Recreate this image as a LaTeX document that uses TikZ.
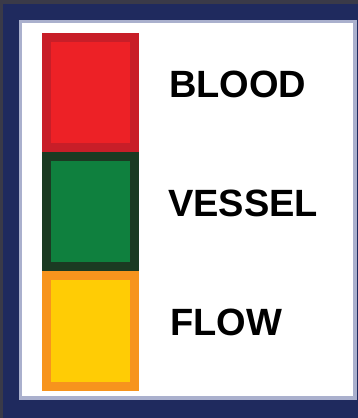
\documentclass[tikz,border=0pt]{standalone}
\usepackage{fontspec}
\setmainfont{Liberation Sans}
\definecolor{FrameGray}{RGB}{58, 58, 72}
\definecolor{FrameNavy}{RGB}{31, 42, 94}
\definecolor{FrameLine}{RGB}{170, 176, 205}
\definecolor{BloodRed}{RGB}{237, 33, 38}
\definecolor{BloodEdge}{RGB}{200, 30, 40}
\definecolor{VesselGreen}{RGB}{15, 128, 62}
\definecolor{VesselEdge}{RGB}{27, 58, 34}
\definecolor{FlowYellow}{RGB}{255, 204, 5}
\definecolor{FlowEdge}{RGB}{247, 148, 29}
\usepackage{tikz}
\usetikzlibrary{positioning}

\begin{document}
\begin{tikzpicture}[x=1pt, y=-1pt,
	swatch/.style={draw, line width=9pt, minimum width=88pt, minimum height=110.5pt, inner sep=0pt},
	legendtext/.style={anchor=west, inner sep=0pt, font=\fontsize{38}{40}\selectfont\bfseries}]
	\useasboundingbox (0,0) rectangle (358,418);
	\fill[FrameGray] (0,0) rectangle (358,418);
	\fill[FrameNavy] (3,4) rectangle (358,418);
	\fill[FrameLine] (19,20) rectangle (357,400);
	\fill[white] (22,23) rectangle (353,396);
	\node[swatch, fill=BloodRed, draw=BloodEdge] (blood box) at (90.5,92.5) {};
	\node[swatch, fill=VesselGreen, draw=VesselEdge] (vessel box) at (90.5,211.5) {};
	\node[swatch, fill=FlowYellow, draw=FlowEdge] (flow box) at (90.5,331) {};
	\node[legendtext] (blood) at (169,84) {BLOOD};
	\node[legendtext] (vessel) at (168,203) {VESSEL};
	\node[legendtext] (flow) at (170,322.5) {FLOW};
\end{tikzpicture}
\end{document}
